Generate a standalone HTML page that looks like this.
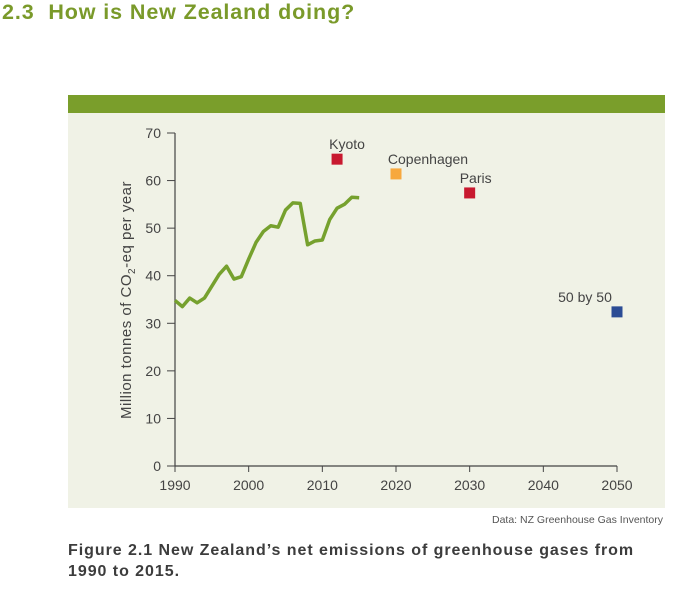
<!DOCTYPE html>
<html><head><meta charset="utf-8"><style>
body{margin:0;width:675px;height:589px;background:#fff;font-family:"Liberation Sans",sans-serif;position:relative;overflow:hidden}
#title{position:absolute;left:2px;top:0px;font-size:21.5px;font-weight:bold;color:#7a9a2a;letter-spacing:0.9px}
#cap{position:absolute;left:68px;top:540px;font-size:16px;font-weight:bold;color:#3c3c3c;line-height:21px;letter-spacing:0.95px}
svg{position:absolute;left:0;top:0}
</style></head><body>
<div id="title">2.3&nbsp; How is New Zealand doing?</div>
<svg id="chart" width="675" height="589">
<rect x="68" y="95" width="597" height="18" fill="#7a9e2b"/>
<rect x="68" y="113" width="597" height="395" fill="#f0f2e6"/>
<g id="axes"></g><g id="marks"></g>
<text x="663" y="523" font-size="10.5" fill="#555" text-anchor="end">Data: NZ Greenhouse Gas Inventory</text>
<text transform="translate(131,300) rotate(-90)" font-size="15" fill="#444" text-anchor="middle" letter-spacing="0.5">Million tonnes of CO<tspan font-size="10" dy="4">2</tspan><tspan dy="-4">-eq per year</tspan></text>
</svg>
<div id="cap">Figure 2.1 New Zealand’s net emissions of greenhouse gases from<br>1990 to 2015.</div>
<script>
const years=[1990,1991,1992,1993,1994,1995,1996,1997,1998,1999,2000,2001,2002,2003,2004,2005,2006,2007,2008,2009,2010,2011,2012,2013,2014,2015];
const emissions=[34.8,33.5,35.3,34.3,35.3,37.8,40.3,42,39.3,39.8,43.5,47,49.3,50.5,50.2,53.8,55.3,55.2,46.5,47.3,47.5,51.8,54.2,55,56.5,56.4];
const targetNames=["Kyoto","Copenhagen","Paris","50 by 50"];
const targetYears=[2012,2020,2030,2050];
const targetValues=[64.5,61.4,57.4,32.4];
const targetColors=["#c8192f","#f7a83e","#c8192f","#2b4c95"];
const xTicks=[1990,2000,2010,2020,2030,2040,2050];
const yTicks=[0,10,20,30,40,50,60,70];
const NS="http://www.w3.org/2000/svg";
const X=v=>175+(v-1990)*(617-175)/60;
const Y=v=>466-v*(466-133)/70;
const labelDx=[10,32,6,-32];
function mk(t,a,p){const e=document.createElementNS(NS,t);for(const k in a)e.setAttribute(k,a[k]);p.appendChild(e);return e;}
const ax=document.getElementById('axes'),mg=document.getElementById('marks');
let l=mk('line',{x1:175,y1:Y(70),x2:175,y2:Y(0),stroke:'#444','stroke-width':1.2},ax);


l=mk('line',{x1:175,y1:Y(0),x2:X(2050),y2:Y(0),stroke:'#444','stroke-width':1.2},ax);


yTicks.forEach(v=>{mk('line',{x1:167,y1:Y(v),x2:175,y2:Y(v),stroke:'#444'},ax);
const t=mk('text',{x:161,y:Y(v)+5,'font-size':14,fill:'#444','text-anchor':'end'},ax);t.textContent=v;

});
xTicks.forEach(v=>{mk('line',{x1:X(v),y1:Y(0),x2:X(v),y2:Y(0)+6,stroke:'#444'},ax);
const t=mk('text',{x:X(v),y:Y(0)+24,'font-size':14,fill:'#444','text-anchor':'middle'},ax);t.textContent=v;

});
const p=mk('polyline',{points:years.map((y,i)=>X(y)+','+Y(emissions[i])).join(' '),fill:'none',stroke:'#76a12e','stroke-width':3.5,'stroke-linejoin':'round'},mg);


targetNames.forEach((n,i)=>{const r=mk('rect',{x:X(targetYears[i])-5.5,y:Y(targetValues[i])-5.5,width:11,height:11,fill:targetColors[i]},mg);


const t=mk('text',{x:X(targetYears[i])+labelDx[i],y:Y(targetValues[i])-10,'font-size':14,fill:'#444','text-anchor':'middle'},mg);t.textContent=n;

});
</script>
</body></html>
